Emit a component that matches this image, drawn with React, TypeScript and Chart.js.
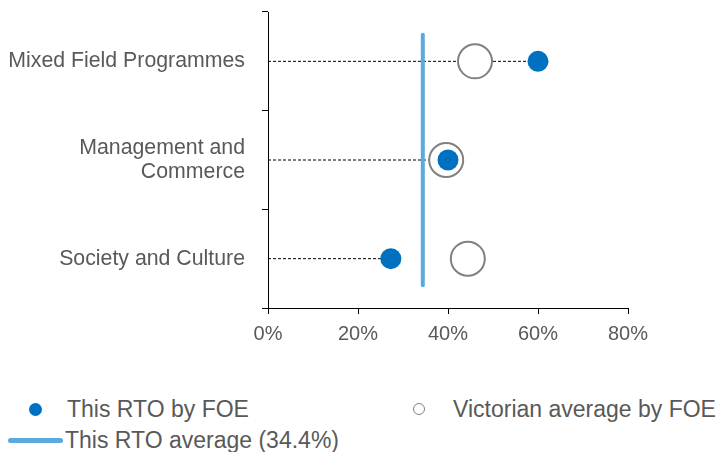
import React, { useEffect, useRef } from 'react';
import { Chart, registerables } from 'chart.js';

Chart.register(...registerables);

// ---- data ----
const categories: (string | string[])[] = [
  'Mixed Field Programmes',
  ['Management and', 'Commerce'],
  'Society and Culture',
];
const rtoByFoe = [60, 40, 27.3];
const vicByFoe = [46, 39.6, 44.4];
const rtoAverage = 34.4;
const xMin = 0;
const xMax = 80;
const xStep = 20;
const avgLineSpan = [0.23, 2.77];

const TEXT = '#595959';
const BLUE = '#0070c0';
const LIGHT_BLUE = '#5aaadc';
const GREY = '#808080';
const FONT = "'Liberation Sans', Arial, sans-serif";

export default function App() {
  const ref = useRef<HTMLCanvasElement | null>(null);

  useEffect(() => {
    if (!ref.current) return;
    const pos = (i: number) => i + 0.5;

    const dashed = rtoByFoe.map((v, i) => ({
      label: 'guide' + i,
      data: [
        { x: xMin, y: pos(i) },
        { x: v, y: pos(i) },
      ],
      showLine: true,
      borderColor: '#000',
      borderWidth: 1,
      borderDash: [3, 2],
      pointRadius: 0,
      order: 5,
    }));

    const chart = new Chart(ref.current, {
      type: 'scatter',
      data: {
        datasets: [
          {
            label: 'This RTO by FOE',
            data: rtoByFoe.map((v, i) => ({ x: v, y: pos(i) })),
            backgroundColor: BLUE,
            borderWidth: 0,
            pointRadius: 10.5,
            order: 0,
          },
          {
            label: 'Victorian average by FOE',
            data: vicByFoe.map((v, i) => ({ x: v, y: pos(i) })),
            backgroundColor: '#ffffff',
            borderColor: GREY,
            borderWidth: 2,
            pointRadius: 17,
            order: 1,
          },
          {
            label: `This RTO average (${rtoAverage}%)`,
            data: avgLineSpan.map((y) => ({ x: rtoAverage, y })),
            showLine: true,
            borderColor: LIGHT_BLUE,
            borderWidth: 4,
            borderCapStyle: 'round',
            pointRadius: 0,
            order: 2,
          },
          ...dashed,
        ] as any,
      },
      options: {
        animation: false,
        responsive: false,
        layout: {
          autoPadding: false,
          padding: { top: 12, right: 100, left: 0, bottom: 0 },
        },
        plugins: {
          legend: { display: false },
          tooltip: { enabled: false },
        },
        scales: {
          x: {
            type: 'linear',
            position: 'bottom',
            min: xMin,
            max: xMax,
            ticks: {
              stepSize: xStep,
              callback: (v: any) => v + '%',
              color: TEXT,
              font: { family: FONT, size: 20 },
              padding: 8,
            },
            grid: { drawOnChartArea: false, tickLength: 6, color: '#000' },
            border: { color: '#000', width: 1 },
            afterFit: (s: any) => {
              s.height = 52;
            },
          },
          y: {
            type: 'linear',
            display: false,
            min: 0,
            max: 3,
            reverse: true,
          },
          yCat: {
            type: 'category',
            position: 'left',
            labels: categories as any,
            offset: true,
            grid: {
              offset: true,
              drawOnChartArea: false,
              tickLength: 6,
              color: '#000',
            },
            border: { color: '#000', width: 1 },
            ticks: {
              color: TEXT,
              font: { family: FONT, size: 21.3, lineHeight: 1.12 },
              padding: 17,
            },
            afterFit: (s: any) => {
              s.width = 268;
              s.paddingTop = 0;
              s.paddingBottom = 0;
            },
          },
        } as any,
      },
    });
    return () => chart.destroy();
  }, []);

  const textStyle: React.CSSProperties = {
    position: 'absolute',
    fontFamily: FONT,
    fontSize: 23,
    color: TEXT,
    lineHeight: '26px',
    whiteSpace: 'nowrap',
  };

  return (
    <div
      style={{
        position: 'absolute',
        left: 0,
        top: 0,
        width: 728,
        height: 452,
        overflow: 'hidden',
        background: '#fff',
      }}
    >
      <canvas
        ref={ref}
        width={728}
        height={360}
        style={{ position: 'absolute', left: 0, top: 0 }}
      />
      {/* legend */}
      <div
        style={{
          position: 'absolute',
          left: 29,
          top: 403,
          width: 13,
          height: 13,
          borderRadius: '50%',
          background: BLUE,
        }}
      />
      <div style={{ ...textStyle, left: 67, top: 396 }}>This RTO by FOE</div>
      <div
        style={{
          position: 'absolute',
          left: 413,
          top: 403,
          width: 10,
          height: 10,
          borderRadius: '50%',
          border: `1.5px solid ${GREY}`,
        }}
      />
      <div style={{ ...textStyle, left: 453, top: 396 }}>Victorian average by FOE</div>
      <div
        style={{
          position: 'absolute',
          left: 8,
          top: 438,
          width: 55,
          height: 5,
          borderRadius: 3,
          background: LIGHT_BLUE,
        }}
      />
      <div style={{ ...textStyle, left: 65, top: 427 }}>
        {`This RTO average (${rtoAverage}%)`}
      </div>
    </div>
  );
}
